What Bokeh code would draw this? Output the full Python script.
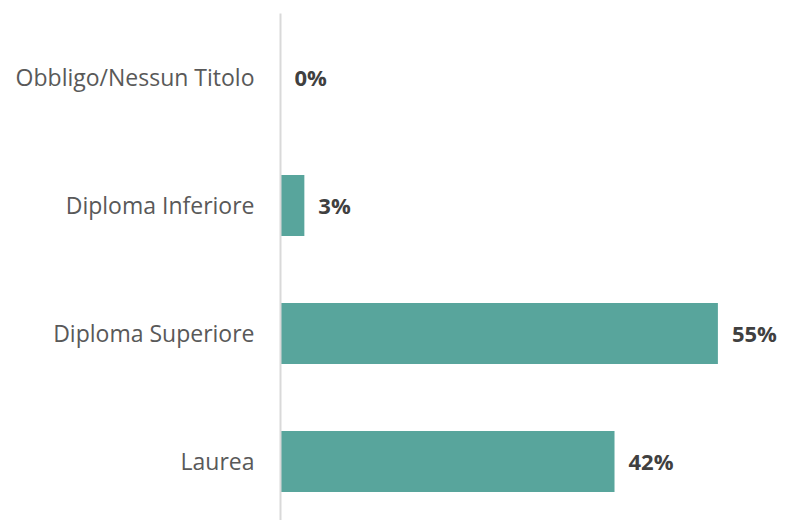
from bokeh.plotting import figure
from bokeh.models import ColumnDataSource, Range1d, FixedTicker
from bokeh.core.properties import value
from bokeh.embed import file_html
from bokeh.resources import INLINE

categories = ["Obbligo/Nessun Titolo", "Diploma Inferiore", "Diploma Superiore", "Laurea"]
values = [0, 3, 55, 42]
value_labels = ["0%", "3%", "55%", "42%"]

n = len(categories)
ypos = [n - 1 - i for i in range(n)]

src = ColumnDataSource(dict(y=ypos, v=values, lbl=value_labels, cat=categories))

p = figure(width=785, height=520, output_backend="svg", toolbar_location=None,
           x_range=Range1d(0, 63.5), y_range=Range1d(-0.461, 3.5),
           min_border_left=280, min_border_right=0, min_border_top=13, min_border_bottom=0)

p.hbar(y="y", right="v", left=0, height=0.475, source=src, color="#58A59C", line_color=None)
p.text(x="v", y="y", text="lbl", source=src, x_offset=14, text_baseline="middle",
       text_align="left", text_font=value("Open Sans"), text_font_style="bold",
       text_font_size="22px", text_color="#404040")

p.xaxis.visible = False
p.xgrid.visible = False
p.ygrid.visible = False
p.outline_line_color = None

ya = p.yaxis[0]
ya.ticker = FixedTicker(ticks=ypos)
ya.major_label_overrides = {yy: c for yy, c in zip(ypos, categories)}
ya.major_tick_line_color = None
ya.minor_tick_line_color = None
ya.axis_line_color = "#d9d9d9"
ya.axis_line_width = 2
ya.major_label_text_font = "Open Sans"
ya.major_label_text_font_size = "23px"
ya.major_label_text_color = "#595959"
ya.major_label_standoff = 20

open("out.html", "w").write(file_html(p, INLINE))
